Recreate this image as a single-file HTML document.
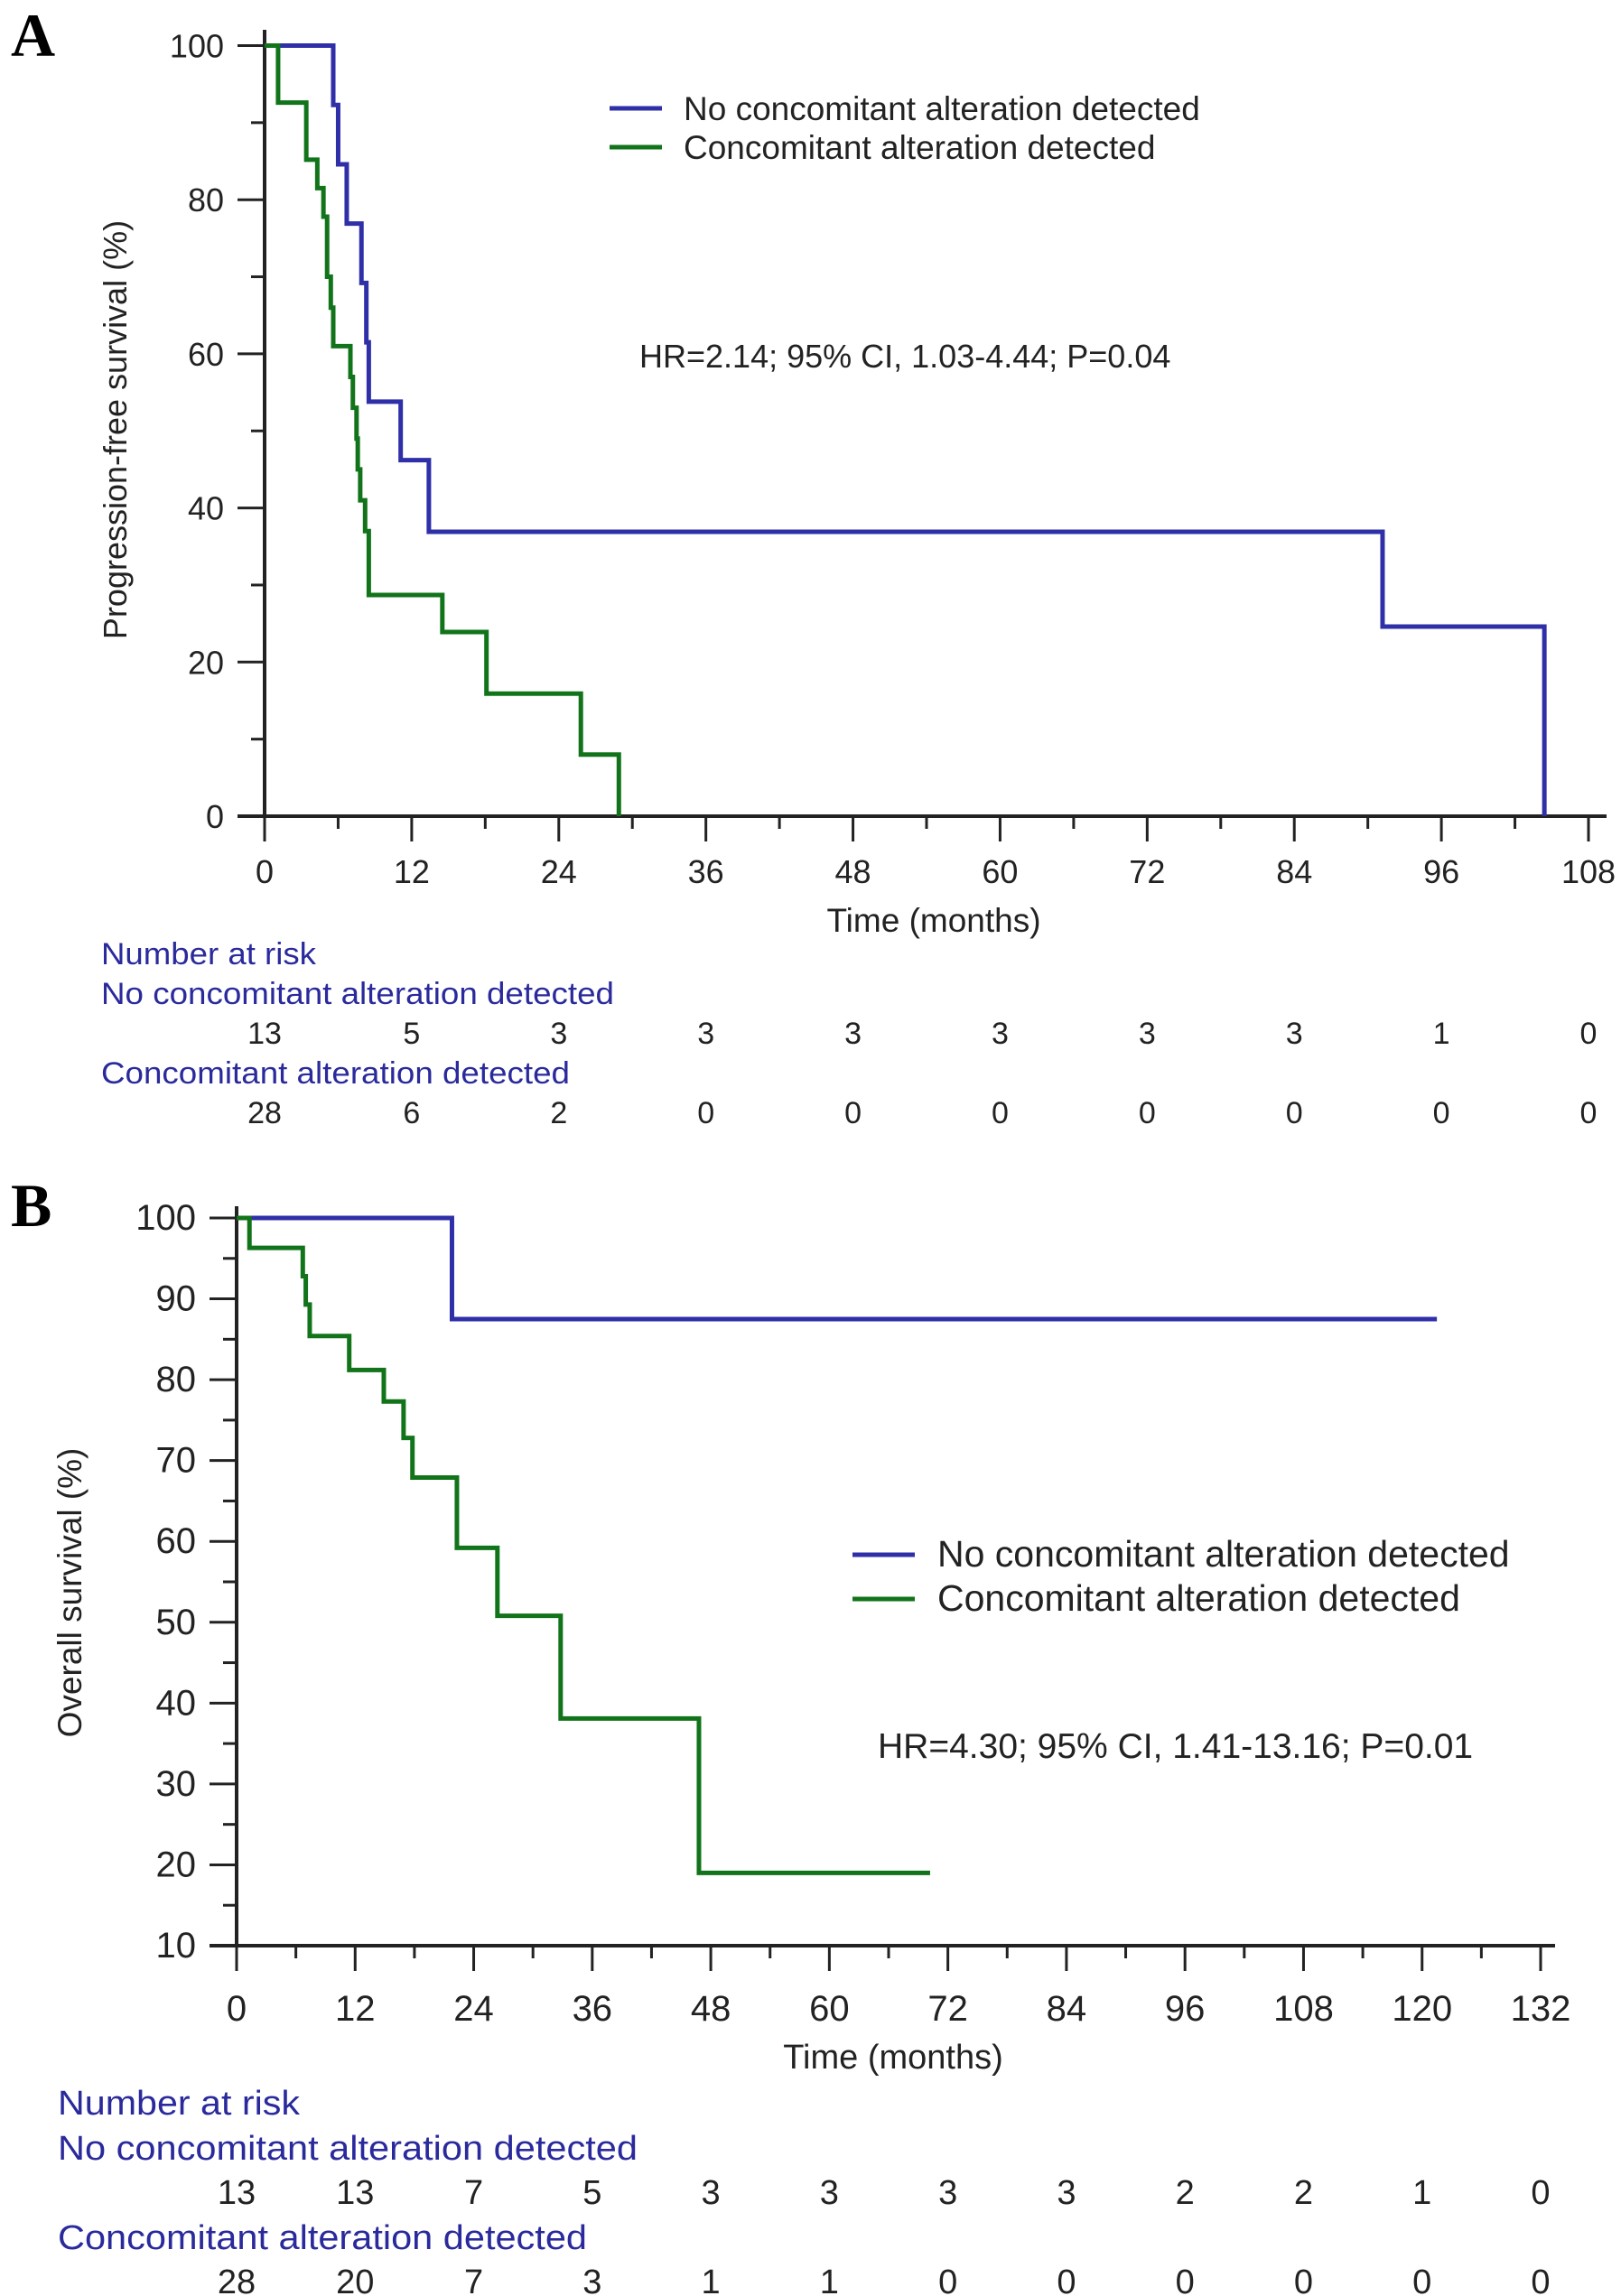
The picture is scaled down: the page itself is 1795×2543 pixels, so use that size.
<!DOCTYPE html>
<html><head><meta charset="utf-8">
<style>
html,body{margin:0;padding:0;background:#fff;}
svg{display:block;font-family:"Liberation Sans",Arial,sans-serif;}
</style></head>
<body>
<svg id="fig" width="1795" height="2543" viewBox="0 0 1795 2543" xmlns="http://www.w3.org/2000/svg">
<text x="12" y="62" font-family="Liberation Serif,serif" font-weight="bold" font-size="68">A</text>
<text x="12" y="1358" font-family="Liberation Serif,serif" font-weight="bold" font-size="68">B</text>
<g id="pa"></g>
<g id="pb"></g>
</svg>
<script>
// Panel A data (PFS)
const aTicksX = [0,12,24,36,48,60,72,84,96,108];
const aTicksY = [0,20,40,60,80,100];
const aBlueT = [0,5.6,6.0,6.7,7.9,8.3,8.5,11.1,13.4,91.2,104.4];
const aBlueS = [100,92.3,84.6,76.9,69.2,61.5,53.8,46.2,36.9,24.6,0];
const aBlueEnd = 104.4;
const aGreenT = [0,1.1,3.4,4.3,4.8,5.1,5.4,5.6,7.0,7.2,7.5,7.6,7.8,8.2,8.5,14.5,18.1,25.8,28.9];
const aGreenS = [100,92.6,85.2,81.5,77.8,70.0,66.0,61.0,57.0,53.0,49.0,45.0,41.0,37.0,28.7,23.9,15.9,8.0,0];
const aGreenEnd = 28.9;
const aRiskNo = [13,5,3,3,3,3,3,3,1,0];
const aRiskCon = [28,6,2,0,0,0,0,0,0,0];
// Panel B data (OS)
const bTicksX = [0,12,24,36,48,60,72,84,96,108,120,132];
const bTicksY = [10,20,30,40,50,60,70,80,90,100];
const bBlueT = [0,21.8];
const bBlueS = [100,87.5];
const bBlueEnd = 121.5;
const bGreenT = [0,1.3,6.7,7.0,7.4,11.4,14.9,16.9,17.8,22.3,26.4,32.8,46.8];
const bGreenS = [100,96.3,92.8,89.3,85.4,81.2,77.3,72.8,67.9,59.2,50.8,38.1,19.0];
const bGreenEnd = 70.2;
const bRiskNo = [13,13,7,5,3,3,3,3,2,2,1,0];
const bRiskCon = [28,20,7,3,1,1,0,0,0,0,0,0];

const NS='http://www.w3.org/2000/svg';
const BLUE='#2f2fa8', GREEN='#12741a', RISK='#2a2a9c';
function mk(p,tag,attrs){const e=document.createElementNS(NS,tag);for(const k in attrs)e.setAttribute(k,attrs[k]);p.appendChild(e);return e;}

function panel(g,cfg){
  const xs=t=>cfg.x0+(t-cfg.xmin)/(cfg.xmax-cfg.xmin)*(cfg.x1-cfg.x0);
  const ys=v=>cfg.y0+(v-cfg.ymin)/(cfg.ymax-cfg.ymin)*(cfg.y1-cfg.y0);
  const ya=mk(g,'line',{x1:xs(cfg.xmin),x2:xs(cfg.xmin),y1:cfg.yTop,y2:ys(cfg.ymin)+2,stroke:'#222','stroke-width':4});
  
  
  const xa=mk(g,'line',{x1:xs(cfg.xmin)-30,x2:cfg.xRight,y1:ys(cfg.ymin),y2:ys(cfg.ymin),stroke:'#222','stroke-width':4});
  
  
  cfg.ticksY.forEach((v,i)=>{
    const l=mk(g,'line',{x1:xs(cfg.xmin)-30,x2:xs(cfg.xmin),y1:ys(v),y2:ys(v),stroke:'#222','stroke-width':3});
    
    
    const t=mk(g,'text',{x:xs(cfg.xmin)-45,y:ys(v)+13,'text-anchor':'end','font-size':cfg.fs,fill:'#222'});
    t.textContent=v;
    
    
    if(i<cfg.ticksY.length-1){
      const m=(v+cfg.ticksY[i+1])/2;
      const ml=mk(g,'line',{x1:xs(cfg.xmin)-15,x2:xs(cfg.xmin),y1:ys(m),y2:ys(m),stroke:'#222','stroke-width':3});
      
      
    }
  });
  cfg.ticksX.forEach((v,i)=>{
    const l=mk(g,'line',{x1:xs(v),x2:xs(v),y1:ys(cfg.ymin),y2:ys(cfg.ymin)+28,stroke:'#222','stroke-width':3});
    
    
    const t=mk(g,'text',{x:xs(v),y:cfg.xlabY,'text-anchor':'middle','font-size':cfg.fs,fill:'#222'});
    t.textContent=v;
    
    
    if(i<cfg.ticksX.length-1){
      const m=(v+cfg.ticksX[i+1])/2;
      const ml=mk(g,'line',{x1:xs(m),x2:xs(m),y1:ys(cfg.ymin),y2:ys(cfg.ymin)+14,stroke:'#222','stroke-width':3});
      
      
    }
  });
  const xt=mk(g,'text',{x:cfg.xTitleX,y:cfg.xTitleY,'text-anchor':'middle','font-size':cfg.fsT,fill:'#222'});
  xt.textContent='Time (months)';
  
  
  const yt=mk(g,'text',{x:0,y:0,'text-anchor':'middle','font-size':cfg.fsY,fill:'#222',transform:`translate(${cfg.yTitleX},${cfg.yTitleY}) rotate(-90)`});
  yt.textContent=cfg.yTitle;
  
  
  function curve(T,S,end,col,name){
    let d=`M${xs(T[0])},${ys(S[0])}`;
    for(let i=1;i<T.length;i++){d+=` H${xs(T[i])} V${ys(S[i])}`;}
    d+=` H${xs(end)}`;
    const p=mk(g,'path',{d:d,fill:'none',stroke:col,'stroke-width':5});
    
    
  }
  curve(cfg.blueT,cfg.blueS,cfg.blueEnd,BLUE,'curve-no-concomitant');
  curve(cfg.greenT,cfg.greenS,cfg.greenEnd,GREEN,'curve-concomitant');
  [[BLUE,'No concomitant alteration detected',cfg.legY1],[GREEN,'Concomitant alteration detected',cfg.legY2]].forEach(([c,lab,y])=>{
    const l=mk(g,'line',{x1:cfg.legX,x2:cfg.legX+cfg.legW,y1:y,y2:y,stroke:c,'stroke-width':5});
    
    
    const t=mk(g,'text',{x:cfg.legTX,y:y+13,'font-size':cfg.fsL,fill:'#222'});
    t.textContent=lab;
    
    
  });
  const hr=mk(g,'text',{x:cfg.hrX,y:cfg.hrY+13,'font-size':cfg.fsH,fill:'#222'});
  hr.textContent=cfg.hr;
  
  
  const rh=[['Number at risk',cfg.r[0]],['No concomitant alteration detected',cfg.r[1]],['Concomitant alteration detected',cfg.r[3]]];
  const names=['risk-table-title','risk-label-no-concomitant','risk-label-concomitant'];
  rh.forEach(([s,y],i)=>{
    const t=mk(g,'text',{x:cfg.rX,y:y+12,'font-size':cfg.fsR,fill:RISK});
    if(cfg.rW[i]){t.setAttribute('textLength',cfg.rW[i]);t.setAttribute('lengthAdjust','spacingAndGlyphs');}
    t.textContent=s;
    
    
  });
  [[cfg.riskNo,cfg.r[2]],[cfg.riskCon,cfg.r[4]]].forEach(([arr,y])=>{
    arr.forEach((n,i)=>{
      const t=mk(g,'text',{x:xs(cfg.ticksX[i]),y:y+12,'text-anchor':'middle','font-size':cfg.fsR,fill:'#222'});
      t.textContent=n;
      
      
    });
  });
}
panel(document.getElementById('pa'),{
  x0:293,x1:1759,xmin:0,xmax:108,y0:904,y1:50.5,ymin:0,ymax:100,yTop:33,xRight:1779,
  ticksX:aTicksX,ticksY:aTicksY,fs:36,fsY:36,fsT:37,fsL:37,fsH:36,fsR:34,xlabY:978,
  xTitleX:1034,xTitleY:1032,yTitleX:140,yTitleY:476,yTitle:'Progression-free survival (%)',
  blueT:aBlueT,blueS:aBlueS,blueEnd:aBlueEnd,greenT:aGreenT,greenS:aGreenS,greenEnd:aGreenEnd,
  legX:675,legW:58,legTX:757,legY1:120,legY2:163,hrX:708,hrY:394,hr:'HR=2.14; 95% CI, 1.03-4.44; P=0.04',
  rX:112,r:[1056,1100,1144,1188,1232],rW:[238,568,519],riskNo:aRiskNo,riskCon:aRiskCon
});
panel(document.getElementById('pb'),{
  x0:262,x1:1706,xmin:0,xmax:132,y0:2155,y1:1349,ymin:10,ymax:100,yTop:1336,xRight:1722,
  ticksX:bTicksX,ticksY:bTicksY,fs:40,fsY:37,fsT:38,fsL:41,fsH:39,fsR:38,xlabY:2238,
  xTitleX:989,xTitleY:2291,yTitleX:90,yTitleY:1764,yTitle:'Overall survival (%)',
  blueT:bBlueT,blueS:bBlueS,blueEnd:bBlueEnd,greenT:bGreenT,greenS:bGreenS,greenEnd:bGreenEnd,
  legX:944,legW:69,legTX:1038,legY1:1722,legY2:1771,hrX:972,hrY:1934,hr:'HR=4.30; 95% CI, 1.41-13.16; P=0.01',
  rX:64,r:[2330,2380,2429,2479,2528],rW:[268,642,586],riskNo:bRiskNo,riskCon:bRiskCon
});
</script>
</body></html>
